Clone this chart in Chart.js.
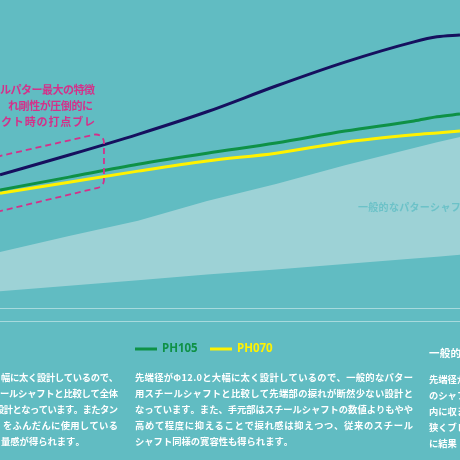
<!DOCTYPE html>
<html>
<head>
<meta charset="utf-8">
<script src="https://cdn.jsdelivr.net/npm/chart.js@4.4.1/dist/chart.umd.min.js"></script>
<style>
  html, body { margin: 0; padding: 0; background: #61bcc2; }
  #wrap { width: 460px; height: 460px; position: relative; overflow: hidden; }
</style>
</head>
<body>
<div id="wrap"><canvas id="chart" width="460" height="460"></canvas></div>
<script>
// position along the shaft (0 = left edge of the crop, 100 = right edge)
var positions = [0, 15, 30, 45, 60, 75, 90, 95, 100];
// stiffness-like values (0..100 scale)
var navyValues  = [62.0, 66.3, 70.8, 75.7, 81.3, 86.5, 90.9, 92.0, 92.4];
var ph105Values = [58.7, 61.5, 64.3, 66.7, 68.9, 71.5, 73.7, 74.6, 75.2];
var ph070Values = [58.0, 60.4, 62.8, 65.0, 66.7, 69.1, 70.7, 71.1, 71.5];
var generalUpper = [45.2, 48.7, 52.0, 56.3, 60.0, 64.1, 67.8, 69.1, 70.2];
var generalLower = [36.7, 37.9, 39.1, 40.3, 41.4, 42.6, 43.8, 44.2, 44.6];
var guideLevels = [33.15, 30.11];

var seriesNames = ['PH105', 'PH070'];
var bandLabel = '一般的なパターシャフト';
var calloutLines = ['ルパター最大の特徴', 'れ剛性が圧倒的に', 'クト時の打点ブレ'];
var leftColumn = ['幅に太く設計しているので、', 'ールシャフトと比較して全体', '設計となっています。またタン', 'をふんだんに使用している', '量感が得られます。'];
var midColumn = [
  '先端径がΦ12.0と大幅に太く設計しているので、一般的なパター',
  '用スチールシャフトと比較して先端部の捩れが断然少ない設計と',
  'なっています。また、手元部はスチールシャフトの数値よりもやや',
  '高めて程度に抑えることで捩れ感は抑えつつ、従来のスチール',
  'シャフト同様の寛容性も得られます。'
];
var rightHeader = '一般的なパターシャフト';
var rightColumn = ['先端径が', 'のシャフト', '内に収ま', '狭くブレ', 'に結果'];

var PINK = '#d4318a';
var GREEN = '#0e9146';
var YELLOW = '#fff200';
var NAVY = '#16105e';

function pts(vals) {
  return positions.map(function (p, i) { return { x: p, y: vals[i] }; });
}

function drawSpaced(ctx, str, x, y, spacing) {
  var cx = x;
  for (var i = 0; i < str.length; i++) {
    ctx.fillText(str[i], cx, y);
    cx += ctx.measureText(str[i]).width + spacing;
  }
}
function spacedWidth(ctx, str, spacing) {
  var w = 0;
  for (var i = 0; i < str.length; i++) w += ctx.measureText(str[i]).width;
  return w + spacing * (str.length - 1);
}
function drawJustified(ctx, str, x, y, width) {
  var natural = spacedWidth(ctx, str, 0);
  drawSpaced(ctx, str, x, y, (width - natural) / (str.length - 1));
}

var decor = {
  id: 'decor',
  beforeDatasetsDraw: function (c) {
    var ctx = c.ctx, ys = c.scales.y;
    ctx.save();
    ctx.strokeStyle = '#a7dadd';
    ctx.lineWidth = 1;
    guideLevels.forEach(function (v) {
      var y = Math.round(ys.getPixelForValue(v)) + 0.5;
      ctx.beginPath(); ctx.moveTo(0, y); ctx.lineTo(c.width, y); ctx.stroke();
    });
    ctx.restore();
  },
  afterDatasetsDraw: function (c) {
    var ctx = c.ctx;
    var xs = c.scales.x, ys = c.scales.y;
    ctx.save();
    ctx.textBaseline = 'middle';
    ctx.textAlign = 'left';

    // label inside the light band
    ctx.fillStyle = '#6cc2c8';
    ctx.font = 'bold 10px "Noto Sans CJK JP"';
    drawSpaced(ctx, bandLabel, 358, 207, 0.3);

    // dashed callout box
    var TL = { x: xs.getPixelForValue(-5), y: ys.getPixelForValue(64.96) };
    var TR = { x: xs.getPixelForValue(22.6), y: ys.getPixelForValue(71.2) };
    var BR = { x: xs.getPixelForValue(22.6), y: ys.getPixelForValue(59.5) };
    var BL = { x: xs.getPixelForValue(-5), y: ys.getPixelForValue(52.9) };
    ctx.strokeStyle = PINK;
    ctx.lineWidth = 1.8;
    ctx.setLineDash([6, 4]);
    ctx.beginPath();
    ctx.moveTo(TL.x, TL.y);
    ctx.arcTo(TR.x, TR.y, BR.x, BR.y, 8);
    ctx.arcTo(BR.x, BR.y, BL.x, BL.y, 8);
    ctx.lineTo(BL.x, BL.y);
    ctx.stroke();
    ctx.setLineDash([]);

    // callout text (clipped on the left like the source)
    ctx.fillStyle = PINK;
    ctx.font = 'bold 11px "Noto Sans CJK JP"';
    var cy = [90, 106, 122];
    var cx0 = [0, 8, 1], cx1 = [95, 93, 95];
    calloutLines.forEach(function (s, i) {
      drawJustified(ctx, s, cx0[i], cy[i], cx1[i] - cx0[i]);
    });

    // legend
    ctx.lineWidth = 3;
    ctx.strokeStyle = GREEN;
    ctx.beginPath(); ctx.moveTo(135, 349); ctx.lineTo(157, 349); ctx.stroke();
    ctx.strokeStyle = YELLOW;
    ctx.beginPath(); ctx.moveTo(210, 349); ctx.lineTo(232, 349); ctx.stroke();
    ctx.font = 'bold 11.5px "Noto Sans"';
    ctx.fillStyle = GREEN;
    ctx.fillText(seriesNames[0], 162, 349);
    ctx.fillStyle = YELLOW;
    ctx.fillText(seriesNames[1], 237, 349);

    // body text
    ctx.fillStyle = '#ffffff';
    ctx.font = 'bold 9.3px "Noto Sans CJK JP"';
    var ly = [377, 393, 409, 425, 441];
    var leftStart = [1, 0, -5, 3];
    leftColumn.forEach(function (s, i) {
      if (i < 4) drawJustified(ctx, s, leftStart[i], ly[i], 118 - leftStart[i]);
      else drawSpaced(ctx, s, 1, ly[i], 0);
    });
    midColumn.forEach(function (s, i) {
      if (i < 4) drawJustified(ctx, s, 135, ly[i], 278);
      else drawSpaced(ctx, s, 135, ly[i], 0);
    });
    rightColumn.forEach(function (s, i) { drawSpaced(ctx, s, 429, ly[i] + 2, 0); });
    ctx.font = 'bold 10.5px "Noto Sans CJK JP"';
    drawSpaced(ctx, rightHeader, 429, 353, 0.2);
    ctx.restore();
  }
};

var ctx = document.getElementById('chart').getContext('2d');
var chart = new Chart(ctx, {
  type: 'scatter',
  data: {
    datasets: [
      {
        label: 'PH',
        data: pts(navyValues),
        showLine: true, borderColor: NAVY, borderWidth: 3,
        cubicInterpolationMode: 'monotone', fill: false, order: 1
      },
      {
        label: seriesNames[0],
        data: pts(ph105Values),
        showLine: true, borderColor: GREEN, borderWidth: 3,
        cubicInterpolationMode: 'monotone', fill: false, order: 2
      },
      {
        label: seriesNames[1],
        data: pts(ph070Values),
        showLine: true, borderColor: YELLOW, borderWidth: 3,
        cubicInterpolationMode: 'monotone', fill: false, order: 3
      },
      {
        label: bandLabel,
        data: pts(generalUpper),
        showLine: true, borderWidth: 0, borderColor: 'rgba(0,0,0,0)',
        backgroundColor: '#9dd2d6', fill: { target: 4 }, order: 4
      },
      {
        label: 'lower',
        data: pts(generalLower),
        showLine: true, borderWidth: 0, borderColor: 'rgba(0,0,0,0)',
        fill: false, order: 5
      }
    ]
  },
  options: {
    responsive: false,
    animation: false,
    layout: { padding: 0 },
    elements: { point: { radius: 0, hoverRadius: 0 } },
    scales: {
      x: { type: 'linear', min: 0, max: 100, display: false },
      y: { min: 0, max: 100, display: false }
    },
    plugins: { legend: { display: false }, tooltip: { enabled: false } }
  },
  plugins: [decor]
});
</script>
</body>
</html>
